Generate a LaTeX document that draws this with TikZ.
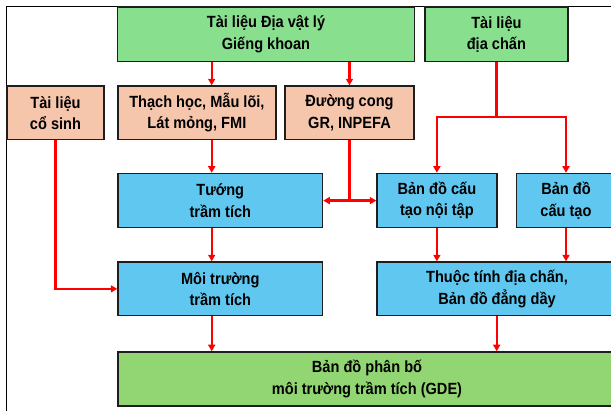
\documentclass[tikz,border=0pt]{standalone}
\usepackage{fontspec}
\setmainfont{Liberation Sans}[FakeStretch=0.9]
\usetikzlibrary{arrows.meta}
\definecolor{gtop}{HTML}{88E08F}
\definecolor{gbot}{HTML}{92D674}
\definecolor{peach}{HTML}{F6C6AC}
\definecolor{bluebox}{HTML}{60C8F0}
\definecolor{edge}{HTML}{1E1E1E}
\tikzset{
  box/.style={draw=edge, line width=1.5pt, align=center, inner sep=0pt,
    font=\fontsize{16.2}{21.5}\selectfont\bfseries, text=black},
  gbox/.style={box, fill=gtop},
  fbox/.style={box, fill=gbot},
  pbox/.style={box, fill=peach},
  bbox/.style={box, fill=bluebox},
  link/.style={draw=red, line width=2.4pt},
  arr/.style={link, -{Triangle[length=6.5pt,width=7pt]}},
  arrs/.style={link, {Triangle[length=6.5pt,width=7pt]}-{Triangle[length=6.5pt,width=7pt]}}
}
\begin{document}
\begin{tikzpicture}[x=1pt,y=1pt]
\clip (0,0) rectangle (611,-411);
\fill[white] (0,0) rectangle (611,-411);
% outer frame
\draw[black, line width=1pt] (6.7,-430) -- (6.7,-6.7) -- (640,-6.7);

% row 1
\node[gbox, minimum width=296.6pt, minimum height=54.3pt] (g1) at (266,-34.2)
  {Tài liệu Địa vật lý\\Giếng khoan};
\node[gbox, minimum width=142.7pt, minimum height=54.3pt] (g2) at (496.4,-34.2)
  {Tài liệu\\địa chấn};
% row 2
\node[pbox, minimum width=97pt, minimum height=53.5pt] (p1) at (55.5,-112.8)
  {Tài liệu\\cổ sinh};
\node[pbox, minimum width=157.7pt, minimum height=53.5pt] (p2) at (196.9,-112.8)
  {Thạch học, Mẫu lõi,\\Lát mỏng, FMI};
\node[pbox, minimum width=129pt, minimum height=53.5pt] (p3) at (349.5,-112.8)
  {Đường cong\\GR, INPEFA};
% row 3
\node[bbox, minimum width=204.5pt, minimum height=54.2pt] (b1) at (220.3,-200.6)
  {Tướng\\trầm tích};
\node[bbox, minimum width=119.7pt, minimum height=54.2pt] (b2) at (436.9,-200.6)
  {Bản đồ cấu\\tạo nội tập};
\node[bbox, minimum width=98.6pt, minimum height=54.2pt] (b3) at (566,-200.6)
  {Bản đồ\\cấu tạo};
% row 4
\node[bbox, minimum width=204.5pt, minimum height=53.7pt] (b4) at (220.3,-288.9)
  {Môi trường\\trầm tích};
\node[bbox, minimum width=240pt, minimum height=53.7pt] (b5) at (497,-288.9)
  {Thuộc tính địa chấn,\\Bản đồ đẳng dầy};
% row 5
\node[fbox, minimum width=498pt, minimum height=54pt] (gde) at (367,-379)
  {Bản đồ phân bố\\môi trường trầm tích (GDE)};

% helper coordinates
\coordinate (xa) at (211.7,0);
\coordinate (xb) at (349.5,0);
\coordinate (jc) at (349.5,-200.6);
\coordinate (js) at (496.4,-117.3);
\coordinate (xr) at (496.7,0);

% connectors
\draw[arr] (g1.south -| xa) -- (p2.north -| xa);
\draw[arr] (g1.south -| xb) -- (p3.north -| xb);
\draw[arr] (p2.south -| xa) -- (b1.north -| xa);
\draw[link] (p3.south) -- (jc);
\draw[arrs] (b1.east) -- (b2.west);
\draw[link] (g2.south) -- (js);
\draw[arr] (js) -| (b2.north);
\draw[arr] (js) -| (b3.north);
\draw[arr] (p1.south) |- (b4.west);
\draw[arr] (b1.south -| xa) -- (b4.north -| xa);
\draw[arr] (b2.south) -- (b5.north -| b2.south);
\draw[arr] (b3.south) -- (b5.north -| b3.south);
\draw[arr] (b4.south -| xa) -- (gde.north -| xa);
\draw[arr] (b5.south -| xr) -- (gde.north -| xr);
\end{tikzpicture}
\end{document}
